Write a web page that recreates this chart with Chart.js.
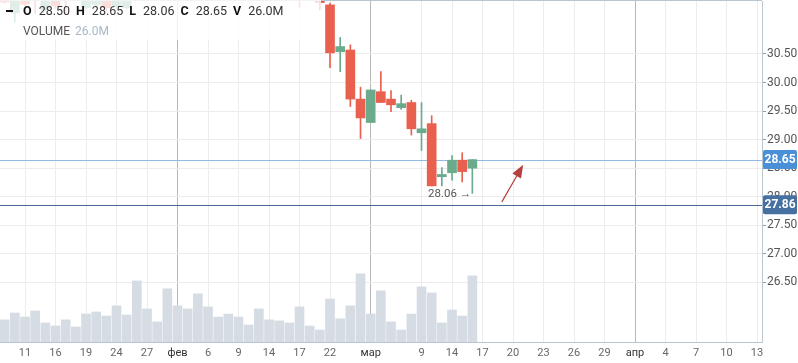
<!DOCTYPE html>
<html>
<head>
<meta charset="utf-8">
<script src="https://cdn.jsdelivr.net/npm/chart.js"></script>
<style>
  body { margin: 0; background: #fff; }
  #wrap { position: relative; width: 798px; height: 363px; font-family: Roboto, "Liberation Sans", Arial, sans-serif; }
  #hdr { position: absolute; left: 0; top: 0; width: 321px; height: 40px; background: rgba(255,255,255,0.8); }
  #hdr .dash { position: absolute; left: 6px; top: 10px; width: 7px; height: 2px; background: #111; }
  #hdr .l1 { position: absolute; left: 23px; top: 4px; font-size: 12.5px; line-height: 14px; color: #333; white-space: nowrap; }
  #hdr .l1 b { color: #111; margin-right: 7px; }
  #hdr .l1 span { margin-right: 6px; }
  #hdr .l2 { position: absolute; left: 23px; top: 24px; font-size: 12px; line-height: 14px; color: #555; white-space: nowrap; }
  #hdr .l2 span { color: #a9b8c7; margin-left: 5px; }
</style>
</head>
<body>
<div id="wrap">
  <canvas id="chart" width="798" height="363"></canvas>
  <div id="hdr">
    <div class="dash"></div>
    <div class="l1"><b>O</b><span>28.50</span><b>H</b><span>28.65</span><b>L</b><span>28.06</span><b>C</b><span>28.65</span><b>V</b><span>26.0M</span></div>
    <div class="l2">VOLUME<span>26.0M</span></div>
  </div>
</div>
<script>
// Торговые дни (МосБиржа, 2017)
const dates = [
  '06.01', '09.01', '10.01', '11.01', '12.01', '13.01', '16.01', '17.01', '18.01', '19.01', '20.01',
  '23.01', '24.01', '25.01', '26.01', '27.01', '30.01', '31.01', '01.02', '02.02', '03.02',
  '06.02', '07.02', '08.02', '09.02', '10.02', '13.02', '14.02', '15.02', '16.02', '17.02',
  '20.02', '21.02', '22.02', '24.02', '27.02', '28.02', '01.03', '02.03', '03.03', '06.03',
  '07.03', '09.03', '10.03', '13.03', '14.03', '15.03', '16.03'
];
const openPrices = [
  32.10, 31.95, 31.22, 31.85, 31.80, 31.27, 31.75, 31.70, 31.60, 31.31, 31.36,
  31.70, 31.33, 31.31, 31.80, 32.05, 31.95, 31.70, 32.15, 32.00, 32.25,
  32.45, 32.20, 31.95, 32.05, 31.90, 31.75, 31.90, 32.00, 31.80, 31.80,
  31.60, 31.62, 31.36, 30.54, 30.57, 29.71, 29.30, 29.84, 29.71, 29.56,
  29.65, 29.12, 29.28, 28.35, 28.42, 28.64, 28.50
];
const highPrices = [
  32.25, 32.10, 31.95, 31.95, 31.90, 31.70, 31.85, 31.80, 31.90, 31.85, 31.80,
  31.85, 31.80, 31.90, 32.20, 32.30, 32.10, 32.25, 32.40, 32.35, 32.60,
  32.55, 32.30, 32.15, 32.20, 32.10, 32.00, 32.15, 32.10, 32.05, 31.95,
  31.75, 31.70, 31.39, 30.79, 30.66, 29.92, 29.87, 30.19, 29.86, 29.78,
  29.69, 29.65, 29.42, 28.51, 28.72, 28.77, 28.65
];
const lowPrices = [
  31.38, 31.39, 31.06, 31.34, 31.21, 31.25, 31.30, 31.22, 31.48, 31.28, 31.34,
  31.25, 31.30, 31.29, 31.60, 31.85, 31.62, 31.55, 31.90, 31.80, 32.05,
  32.10, 31.85, 31.70, 31.80, 31.65, 31.60, 31.72, 31.68, 31.55, 31.32,
  31.48, 31.27, 30.26, 30.19, 29.58, 29.02, 29.30, 29.65, 29.49, 29.53,
  29.08, 28.81, 28.19, 28.19, 28.29, 28.26, 28.06
];
const closePrices = [
  31.45, 31.41, 31.80, 31.37, 31.50, 31.60, 31.34, 31.50, 31.75, 31.70, 31.65,
  31.31, 31.60, 31.75, 32.05, 31.95, 31.70, 32.15, 32.00, 32.25, 32.45,
  32.20, 31.95, 32.05, 31.90, 31.75, 31.90, 32.00, 31.80, 31.95, 31.50,
  31.55, 31.40, 30.52, 30.63, 29.71, 29.38, 29.87, 29.65, 29.61, 29.63,
  29.19, 29.19, 28.19, 28.39, 28.64, 28.44, 28.65
];
// объём, млн
const volumes = [
  14.2, 8.7, 11.4, 9.8, 12.2, 7.5, 6.3, 8.7, 5.9, 11.0, 11.8,
  10.2, 14.2, 10.6, 24.0, 13.0, 7.9, 20.9, 14.2, 13.0, 18.9,
  13.8, 9.8, 11.0, 9.8, 6.7, 13.0, 8.7, 8.3, 7.5, 13.8,
  6.3, 4.7, 16.9, 9.1, 14.2, 26.8, 11.0, 20.1, 7.9, 4.7,
  11.0, 21.7, 19.3, 7.5, 12.6, 10.2, 26.0
];

// Подписи оси X (позиция = номер торгового дня, дальше — календарные дни)
const xTickPos = [3, 6, 9, 12, 15, 18, 21, 24, 27, 30, 33, 37, 42, 45, 48, 51, 54, 57, 60, 63, 66, 69, 72, 75];
const xTickLabels = ['11', '16', '19', '24', '27', 'фев', '6', '9', '14', '17', '22', 'мар', '9', '14', '17', '20', '23', '26', '29', 'апр', '4', '7', '10', '13'];
const monthLabels = ['фев', 'мар', 'апр'];
const yTicks = [26.5, 27, 27.5, 28, 28.5, 29, 29.5, 30, 30.5];

const lastPrice = 28.65;
const levelPrice = 27.86;
const arrowFrom = { x: 49.9, y: 27.91 };
const arrowTo = { x: 52.0, y: 28.56 };

const RED = '#ea604e';
const GREEN = '#6aaa8d';
const candleColors = openPrices.map((o, i) => closePrices[i] >= o ? GREEN : RED);

const bodyData = dates.map((d, i) => ({ x: i, y: [openPrices[i], closePrices[i]] }));
const wickData = dates.map((d, i) => ({ x: i, y: [lowPrices[i], highPrices[i]] }));
const volumeData = dates.map((d, i) => ({ x: i, y: volumes[i] }));

Chart.defaults.font.family = 'Roboto, "Liberation Sans", Arial, sans-serif';

function roundRect(ctx, x, y, w, h, r) {
    ctx.beginPath();
    ctx.moveTo(x + r, y);
    ctx.arcTo(x + w, y, x + w, y + h, r);
    ctx.arcTo(x + w, y + h, x, y + h, r);
    ctx.arcTo(x, y + h, x, y, r);
    ctx.arcTo(x, y, x + w, y, r);
    ctx.closePath();
}

const priceMarks = {
    id: 'priceMarks',
    beforeDatasetsDraw(chart) {
        const { ctx, chartArea: a, scales: { y } } = chart;
        ctx.save();
        ctx.lineWidth = 1;
        const yl = Math.round(y.getPixelForValue(lastPrice)) + 0.5;
        ctx.strokeStyle = '#93b9e6';
        ctx.beginPath(); ctx.moveTo(a.left, yl); ctx.lineTo(a.right, yl); ctx.stroke();
        const yv = Math.round(y.getPixelForValue(levelPrice)) + 0.5;
        ctx.strokeStyle = '#4b6b95';
        ctx.beginPath(); ctx.moveTo(a.left, yv); ctx.lineTo(a.right, yv); ctx.stroke();
        ctx.restore();
    },
    afterDatasetsDraw(chart) {
        const { ctx, scales: { x, y } } = chart;
        const last = dates.length - 1;
        ctx.save();
        // подпись минимума
        ctx.font = '11.5px Roboto, "Liberation Sans", Arial, sans-serif';
        ctx.fillStyle = '#555';
        ctx.textAlign = 'right';
        ctx.textBaseline = 'middle';
        ctx.fillText(lowPrices[last].toFixed(2) + ' →', x.getPixelForValue(last) - 1, y.getPixelForValue(lowPrices[last]) + 1);

        // красная стрелка
        const x1 = x.getPixelForValue(arrowFrom.x), y1 = y.getPixelForValue(arrowFrom.y);
        const x2 = x.getPixelForValue(arrowTo.x), y2 = y.getPixelForValue(arrowTo.y);
        const ang = Math.atan2(y2 - y1, x2 - x1);
        ctx.strokeStyle = '#b5403f';
        ctx.fillStyle = '#b5403f';
        ctx.lineWidth = 1.2;
        ctx.beginPath(); ctx.moveTo(x1, y1); ctx.lineTo(x2 - Math.cos(ang) * 8, y2 - Math.sin(ang) * 8); ctx.stroke();
        ctx.beginPath();
        ctx.moveTo(x2, y2);
        ctx.lineTo(x2 - Math.cos(ang) * 13 + Math.sin(ang) * 5, y2 - Math.sin(ang) * 13 - Math.cos(ang) * 5);
        ctx.lineTo(x2 - Math.cos(ang) * 13 - Math.sin(ang) * 5, y2 - Math.sin(ang) * 13 + Math.cos(ang) * 5);
        ctx.closePath();
        ctx.fill();
        ctx.restore();
    },
    afterDraw(chart) {
        const { ctx, chartArea: a, scales: { y } } = chart;
        ctx.save();
        ctx.fillStyle = '#b7c6d1';
        ctx.fillRect(a.left, a.top - 1, a.right - a.left, 1);

        ctx.font = 'bold 12px Roboto, "Liberation Sans", Arial, sans-serif';
        ctx.textAlign = 'center';
        ctx.textBaseline = 'middle';
        [[lastPrice, '#4a90d9'], [levelPrice, '#4670a0']].forEach(([v, c]) => {
            const py = y.getPixelForValue(v);
            ctx.fillStyle = c;
            roundRect(ctx, a.right + 1, py - 9.5, 34, 19, 2);
            ctx.fill();
            ctx.fillStyle = '#fff';
            ctx.fillText(v.toFixed(2), a.right + 18, py + 0.5);
        });
        ctx.restore();
    }
};

new Chart(document.getElementById('chart'), {
    type: 'bar',
    data: {
        datasets: [
            {
                data: bodyData,
                backgroundColor: candleColors,
                barThickness: 9,
                grouped: false,
                order: 1,
                yAxisID: 'y'
            },
            {
                data: wickData,
                backgroundColor: candleColors,
                barThickness: 1,
                grouped: false,
                order: 2,
                yAxisID: 'y'
            },
            {
                data: volumeData,
                backgroundColor: '#d5dce3',
                barThickness: 9,
                grouped: false,
                order: 3,
                yAxisID: 'yv'
            }
        ]
    },
    options: {
        responsive: false,
        animation: false,
        devicePixelRatio: 1,
        layout: { padding: { top: 1, left: 0, right: 0, bottom: 0 } },
        plugins: { legend: { display: false }, tooltip: { enabled: false } },
        scales: {
            x: {
                type: 'linear',
                position: 'bottom',
                offset: false,
                min: 0.54,
                max: 75.49,
                afterBuildTicks: (scale) => { scale.ticks = xTickPos.map(v => ({ value: v })); },
                afterFit: (scale) => { scale.height = 21; scale.paddingLeft = 0; scale.paddingRight = 0; },
                ticks: {
                    autoSkip: false,
                    maxRotation: 0,
                    padding: 5,
                    font: { size: 11 },
                    color: (ctx) => monthLabels.includes(xTickLabels[ctx.index]) ? '#333' : '#666',
                    callback: (v, i) => xTickLabels[i]
                },
                grid: {
                    offset: false,
                    drawTicks: false,
                    color: (ctx) => monthLabels.includes(xTickLabels[ctx.index]) ? '#b8b8b8' : '#ececec'
                },
                border: { color: '#b7c6d1' }
            },
            y: {
                type: 'linear',
                position: 'right',
                min: 25.456,
                max: 31.428,
                beginAtZero: false,
                afterBuildTicks: (scale) => { scale.ticks = yTicks.map(v => ({ value: v })); },
                afterFit: (scale) => { scale.width = 36; scale.paddingTop = 0; scale.paddingBottom = 0; },
                ticks: {
                    padding: 1,
                    font: { size: 12 },
                    color: '#555',
                    callback: (v) => Number(v).toFixed(2)
                },
                grid: { color: '#ececec', tickColor: '#999', tickLength: 4 },
                border: { color: '#b7c6d1' }
            },
            yv: {
                display: false,
                min: 0,
                max: 134
            }
        }
    },
    plugins: [priceMarks]
});
</script>
</body>
</html>
